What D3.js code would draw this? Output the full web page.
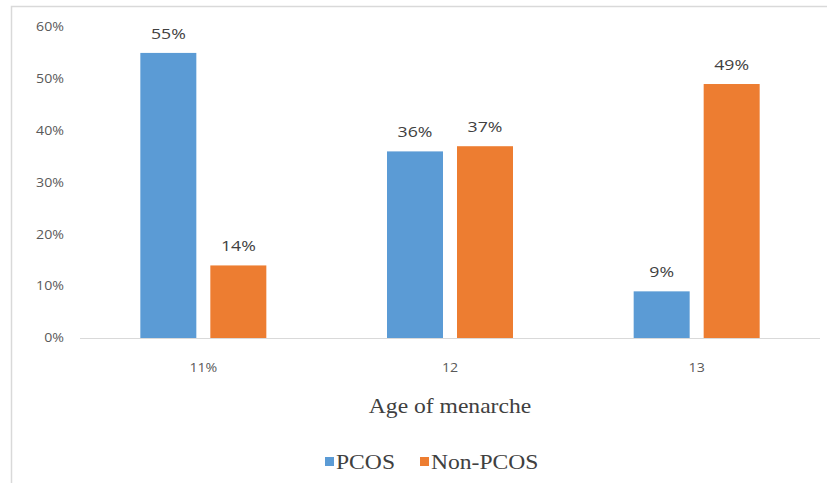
<!DOCTYPE html>
<html>
<head>
<meta charset="utf-8">
<script src="https://cdn.jsdelivr.net/npm/d3@7"></script>
<style>
  body { margin: 0; background: #fff; }
</style>
</head>
<body>
<script>
var ages = ['11%', '12', '13'];
var series = ['PCOS', 'Non-PCOS'];
var pcos = [55, 36, 9];
var nonPcos = [14, 37, 49];
var yTicks = [0, 10, 20, 30, 40, 50, 60];
var colors = ['#5b9bd5', '#ed7d31'];

var width = 827, height = 483;
var plotLeft = 80, plotRight = 820, plotTop = 27, plotBottom = 338;
var stretch = 1.18; // the reference text looks stretched sideways

var svg = d3.select('body').append('svg')
  .attr('width', width)
  .attr('height', height);

// outer frame (left and top edges visible)
svg.append('path')
  .attr('d', 'M11.5,483 V6.5 H827')
  .attr('fill', 'none')
  .attr('stroke', '#d9d9d9')
  .attr('stroke-width', 1.5);

var x = d3.scaleBand()
  .domain(ages)
  .range([plotLeft, plotRight]);

var xInner = d3.scaleBand()
  .domain(series)
  .range([0, 126])
  .paddingInner(0.2);

var y = d3.scaleLinear()
  .domain([0, 60])
  .range([plotBottom, plotTop]);

function place(px, py){
  return 'translate(' + px + ',' + py + ') scale(' + stretch + ',1)';
}

// y tick labels (no axis line, no gridlines)
svg.selectAll('.ytick')
  .data(yTicks)
  .enter().append('text')
    .attr('transform', function(d){ return place(64, y(d)) })
    .attr('dy', '0.35em')
    .attr('text-anchor', 'end')
    .style('font-family', 'Open Sans, sans-serif')
    .style('font-size', '12px')
    .style('fill', '#595959')
    .text(function(d){ return d + '%' });

// baseline
svg.append('line')
  .attr('x1', plotLeft).attr('x2', plotRight)
  .attr('y1', plotBottom + 0.5).attr('y2', plotBottom + 0.5)
  .attr('stroke', '#d9d9d9')
  .attr('stroke-width', 1);

var rows = ages.map(function(a, i){
  return [{ age: a, s: series[0], v: pcos[i] }, { age: a, s: series[1], v: nonPcos[i] }];
});

var groups = svg.selectAll('.grp')
  .data(rows)
  .enter().append('g')
    .attr('transform', function(d){
      return 'translate(' + (x(d[0].age) + x.bandwidth() / 2 - 63) + ',0)';
    });

groups.selectAll('rect')
  .data(function(d){ return d })
  .enter().append('rect')
    .attr('x', function(d){ return xInner(d.s) })
    .attr('width', xInner.bandwidth())
    .attr('y', function(d){ return y(d.v) })
    .attr('height', function(d){ return plotBottom - y(d.v) })
    .style('fill', function(d, i){ return colors[i] });

groups.selectAll('.lbl')
  .data(function(d){ return d })
  .enter().append('text')
    .attr('transform', function(d){
      return place(xInner(d.s) + xInner.bandwidth() / 2, y(d.v) - 14);
    })
    .attr('text-anchor', 'middle')
    .style('font-family', 'Open Sans, sans-serif')
    .style('font-size', '15px')
    .style('fill', '#404040')
    .text(function(d){ return d.v + '%' });

// x labels
svg.selectAll('.xlbl')
  .data(ages)
  .enter().append('text')
    .attr('transform', function(d){ return place(x(d) + x.bandwidth() / 2, 372) })
    .attr('text-anchor', 'middle')
    .style('font-family', 'Open Sans, sans-serif')
    .style('font-size', '12px')
    .style('fill', '#595959')
    .text(function(d){ return d });

// axis title
svg.append('text')
  .attr('transform', place(450, 413))
  .attr('text-anchor', 'middle')
  .style('font-family', 'Liberation Serif, serif')
  .style('font-size', '20px')
  .style('fill', '#404040')
  .text('Age of menarche');

// legend
var legendX = [325, 420];
var legend = svg.selectAll('.leg')
  .data(series)
  .enter().append('g')
    .attr('transform', function(d, i){ return 'translate(' + legendX[i] + ',462)' });

legend.append('rect')
  .attr('x', 0).attr('y', -5)
  .attr('width', 9).attr('height', 9)
  .style('fill', function(d, i){ return colors[i] });

legend.append('text')
  .attr('transform', place(11, 0))
  .attr('dy', '0.35em')
  .style('font-family', 'Liberation Serif, serif')
  .style('font-size', '20px')
  .style('fill', '#404040')
  .text(function(d){ return d });
</script>
</body>
</html>
